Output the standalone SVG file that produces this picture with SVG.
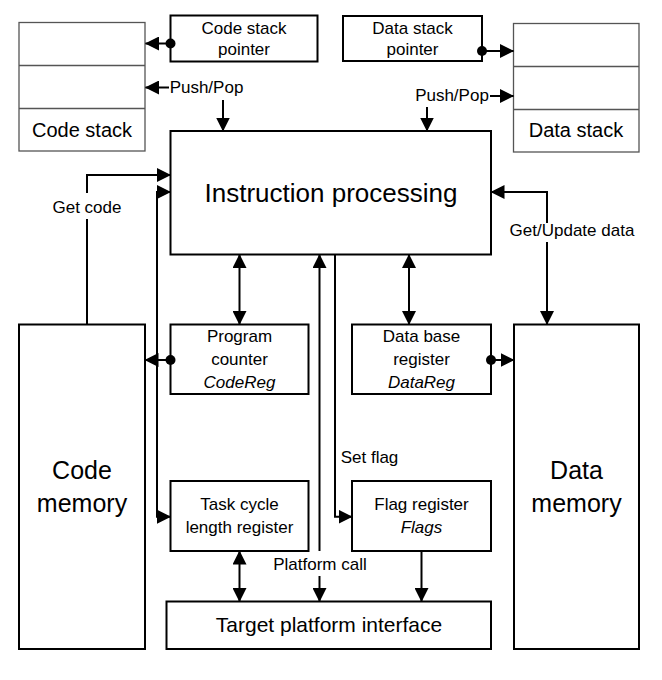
<svg xmlns="http://www.w3.org/2000/svg" width="662" height="680" viewBox="0 0 662 680">
<style>
.box{fill:#fff;stroke:#000;stroke-width:2}
.stk{fill:#fff;stroke:#555;stroke-width:1.3}
.ln{fill:none;stroke:#000;stroke-width:2}
.dot{fill:#000}
text{font-family:"Liberation Sans",Arial,sans-serif;fill:#000;text-anchor:middle}
.s{font-size:17px}
.m{font-size:20px}
.l{font-size:25px}
.i{font-style:italic}
</style>
<defs>
<marker id="ar" markerUnits="userSpaceOnUse" markerWidth="14" markerHeight="14" refX="13.5" refY="7" orient="auto-start-reverse" viewBox="0 0 14 14">
<path d="M0,0 L14,7 L0,14 z" fill="#000"/>
</marker>
</defs>
<rect width="662" height="680" fill="#fff"/>

<g id="code-stack">
<rect class="stk" x="19" y="22.5" width="126" height="128.5"/>
<line class="stk" x1="19" y1="65.5" x2="145" y2="65.5"/>
<line class="stk" x1="19" y1="108.5" x2="145" y2="108.5"/>
<text class="m" x="82" y="137">Code stack</text>
</g>
<g id="data-stack">
<rect class="stk" x="513.5" y="23.5" width="125.5" height="128.5"/>
<line class="stk" x1="513.5" y1="66.5" x2="639" y2="66.5"/>
<line class="stk" x1="513.5" y1="109.5" x2="639" y2="109.5"/>
<text class="m" x="576" y="137">Data stack</text>
</g>
<g id="code-stack-pointer">
<rect class="box" x="170.5" y="15.5" width="147" height="46"/>
<text class="s" x="244" y="33.5">Code stack</text>
<text class="s" x="244" y="55">pointer</text>
</g>
<g id="data-stack-pointer">
<rect class="box" x="343" y="16" width="139" height="45"/>
<text class="s" x="412.5" y="33.5">Data stack</text>
<text class="s" x="412.5" y="55">pointer</text>
</g>
<g id="instruction-processing">
<rect class="box" x="170.5" y="131" width="320.5" height="123.5"/>
<text x="331" y="202" font-size="26px">Instruction processing</text>
</g>
<g id="code-memory">
<rect class="box" x="19" y="324.5" width="126" height="324.5"/>
<text class="l" x="82" y="479">Code</text>
<text class="l" x="82" y="512">memory</text>
</g>
<g id="data-memory">
<rect class="box" x="514" y="324.5" width="125" height="324.5"/>
<text class="l" x="576.5" y="479">Data</text>
<text class="l" x="576.5" y="512">memory</text>
</g>
<g id="program-counter">
<rect class="box" x="170.5" y="324.5" width="138" height="69.5"/>
<text class="s" x="239.5" y="342">Program</text>
<text class="s" x="239.5" y="365">counter</text>
<text class="s i" x="239.5" y="388">CodeReg</text>
</g>
<g id="data-base-register">
<rect class="box" x="352" y="324.5" width="139" height="69.5"/>
<text class="s" x="421.5" y="342">Data base</text>
<text class="s" x="421.5" y="365">register</text>
<text class="s i" x="421.5" y="388">DataReg</text>
</g>
<g id="task-cycle-length-register">
<rect class="box" x="170.5" y="481" width="138" height="70"/>
<text class="s" x="239.5" y="510">Task cycle</text>
<text class="s" x="239.5" y="533">length register</text>
</g>
<g id="flag-register">
<rect class="box" x="352" y="481" width="139" height="70"/>
<text class="s" x="421.5" y="510">Flag register</text>
<text class="s i" x="421.5" y="533">Flags</text>
</g>
<g id="target-platform-interface">
<rect class="box" x="166.5" y="601.5" width="324.5" height="47.5"/>
<text x="329" y="632" font-size="21px">Target platform interface</text>
</g>

<g id="connectors">
<line class="ln" x1="170" y1="43.5" x2="145.5" y2="43.5" marker-end="url(#ar)"/>
<circle class="dot" cx="170.5" cy="43.5" r="5"/>
<line class="ln" x1="482" y1="51" x2="513.5" y2="51" marker-end="url(#ar)"/>
<circle class="dot" cx="482" cy="51" r="5"/>
<line class="ln" x1="169" y1="87.5" x2="145.5" y2="87.5" marker-end="url(#ar)"/>
<text class="s" x="206.5" y="92.5">Push/Pop</text>
<line class="ln" x1="223" y1="100" x2="223" y2="131" marker-end="url(#ar)"/>
<line class="ln" x1="490" y1="96" x2="513.5" y2="96" marker-end="url(#ar)"/>
<text class="s" x="452" y="100.5">Push/Pop</text>
<line class="ln" x1="427" y1="107" x2="427" y2="131" marker-end="url(#ar)"/>

<path class="ln" d="M87,324.5 V219"/>
<path class="ln" d="M87,193 V175 H170.5" marker-end="url(#ar)"/>
<text class="s" x="87" y="212.5">Get code</text>

<path class="ln" d="M170.5,192 H157 V516.7 H170.5" marker-start="url(#ar)" marker-end="url(#ar)"/>

<line class="ln" x1="170.5" y1="360" x2="145" y2="360" marker-end="url(#ar)"/>
<circle class="dot" cx="170.5" cy="360" r="5"/>
<line class="ln" x1="491" y1="360" x2="514" y2="360" marker-end="url(#ar)"/>
<circle class="dot" cx="491" cy="360" r="5"/>

<line class="ln" x1="239.5" y1="254.5" x2="239.5" y2="324.5" marker-start="url(#ar)" marker-end="url(#ar)"/>
<line class="ln" x1="409" y1="254.5" x2="409" y2="324.5" marker-start="url(#ar)" marker-end="url(#ar)"/>

<path class="ln" d="M491,192 H547 V223" marker-start="url(#ar)"/>
<path class="ln" d="M547,242 V324.5" marker-end="url(#ar)"/>
<text class="s" x="572" y="236">Get/Update data</text>

<path class="ln" d="M335,254.5 V516.7 H352" marker-end="url(#ar)"/>
<text class="s" x="369.5" y="463">Set flag</text>

<line class="ln" x1="319.5" y1="254.5" x2="319.5" y2="551" marker-start="url(#ar)"/>
<line class="ln" x1="319.5" y1="576" x2="319.5" y2="601.5" marker-end="url(#ar)"/>
<text class="s" x="320" y="569.5">Platform call</text>

<line class="ln" x1="239.5" y1="551" x2="239.5" y2="601.5" marker-start="url(#ar)" marker-end="url(#ar)"/>
<line class="ln" x1="421.5" y1="551" x2="421.5" y2="601.5" marker-end="url(#ar)"/>
</g>
</svg>
